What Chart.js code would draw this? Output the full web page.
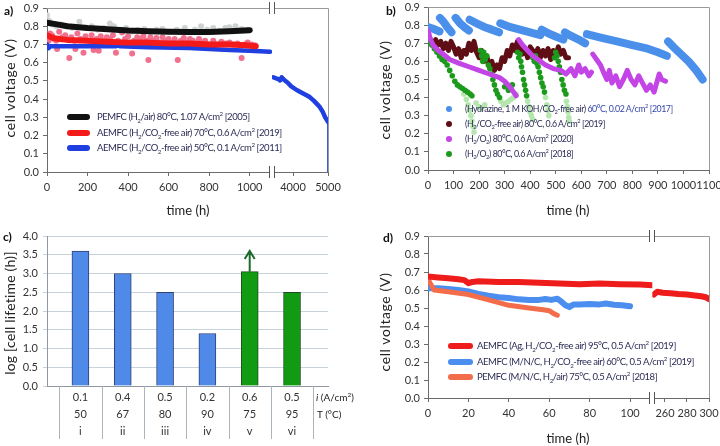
<!DOCTYPE html>
<html>
<head>
<meta charset="utf-8">
<script src="https://cdn.jsdelivr.net/npm/chart.js@4.4.1/dist/chart.umd.min.js"></script>
<style>
  body { margin: 0; background: #fff; width: 720px; height: 446px; position: relative; overflow: hidden; font-family: Lato, "Open Sans", sans-serif; }
  canvas { position: absolute; }
  .t { position: absolute; white-space: nowrap; line-height: 1; color: #222; }
  .lab { font-weight: bold; font-size: 12px; color: #111; transform: translateY(-50%); }
  .yt { font-size: 14px; letter-spacing: 0.6px; transform: translate(-50%, -50%) rotate(-90deg); }
  .xt { font-size: 13px; transform: translate(-50%, -50%); }
  .lg { font-size: 9.5px; letter-spacing: -0.45px; color: #2b2b55; transform: translateY(-50%); }
  .lgb { font-size: 8.8px; }
  .sw { position: absolute; height: 6px; border-radius: 3px; transform: translateY(-50%); }
  .dot { position: absolute; width: 6px; height: 6px; border-radius: 3px; transform: translate(-50%, -50%); }
  sub, sup { font-size: 65%; line-height: 0; }
</style>
</head>
<body>
<canvas id="ca" width="360" height="220" style="left:0;top:0"></canvas>
<canvas id="cb" width="360" height="220" style="left:360px;top:0"></canvas>
<canvas id="cc" width="360" height="226" style="left:0;top:220px"></canvas>
<canvas id="cd" width="360" height="226" style="left:360px;top:220px"></canvas>

<div class="t lab" style="left:4px;top:11px">a)</div>
<div class="t lab" style="left:386px;top:11px">b)</div>
<div class="t lab" style="left:3px;top:237px">c)</div>
<div class="t lab" style="left:383px;top:238px">d)</div>

<div class="t yt" style="left:10px;top:88px">cell voltage (V)</div>
<div class="t yt" style="left:385px;top:90px">cell voltage (V)</div>
<div class="t yt" style="left:10px;top:313px;letter-spacing:0.2px">log [cell lifetime (h)]</div>
<div class="t yt" style="left:385px;top:322px">cell voltage (V)</div>
<div class="t xt" style="left:188px;top:210px">time (h)</div>
<div class="t xt" style="left:568px;top:210px">time (h)</div>
<div class="t xt" style="left:568px;top:438px">time (h)</div>

<!-- legend a -->
<div class="sw" style="left:67px;top:117px;width:23px;background:#111"></div>
<div class="sw" style="left:67px;top:133px;width:23px;background:#f41a1a"></div>
<div class="sw" style="left:67px;top:148px;width:23px;background:#1f3fe0"></div>
<div class="t lg" style="left:97px;top:117px">PEMFC (H<sub>2</sub>/air) 80°C, 1.07 A/cm<sup>2</sup> [2005]</div>
<div class="t lg" style="left:97px;top:133px">AEMFC (H<sub>2</sub>/CO<sub>2</sub>-free air) 70°C, 0.6 A/cm<sup>2</sup> [2019]</div>
<div class="t lg" style="left:97px;top:148px">AEMFC (H<sub>2</sub>/CO<sub>2</sub>-free air) 50°C, 0.1 A/cm<sup>2</sup> [2011]</div>

<!-- legend b -->
<div class="dot" style="left:449px;top:109px;background:#4a90ea"></div>
<div class="dot" style="left:449px;top:124px;background:#5e0e14"></div>
<div class="dot" style="left:449px;top:139px;background:#c345e6"></div>
<div class="dot" style="left:449px;top:154px;background:#1c9a1c"></div>
<div class="t lg lgb" style="left:465px;top:109px">(Hydrazine, 1 M KOH/CO<sub>2</sub>-free air) <span style="color:#3546a8">60°C, 0.02 A/cm<sup>2</sup> [2017]</span></div>
<div class="t lg lgb" style="left:465px;top:124px">(H<sub>2</sub>/CO<sub>2</sub>-free air) 80°C, 0.6 A/cm<sup>2</sup> [2019]</div>
<div class="t lg lgb" style="left:465px;top:139px">(H<sub>2</sub>/O<sub>2</sub>) 80°C, 0.6 A/cm<sup>2</sup> [2020]</div>
<div class="t lg lgb" style="left:465px;top:154px">(H<sub>2</sub>/O<sub>2</sub>) 80°C, 0.6 A/cm<sup>2</sup> [2018]</div>

<!-- c row headers -->
<div class="t lg" style="left:316px;top:397px;color:#222;font-size:10px;letter-spacing:0"><i>i</i> (A/cm<sup>2</sup>)</div>
<div class="t lg" style="left:317px;top:414px;color:#222;font-size:10px;letter-spacing:0">T (°C)</div>

<!-- legend d -->
<div class="sw" style="left:448px;top:346px;width:25px;background:#ef1c1c"></div>
<div class="sw" style="left:448px;top:362px;width:25px;background:#4b8ef0"></div>
<div class="sw" style="left:448px;top:377px;width:25px;background:#f36d4a"></div>
<div class="t lg" style="left:477px;top:346px">AEMFC (Ag, H<sub>2</sub>/CO<sub>2</sub>-free air) 95°C, 0.5 A/cm<sup>2</sup> [2019]</div>
<div class="t lg" style="left:477px;top:362px">AEMFC (M/N/C, H<sub>2</sub>/CO<sub>2</sub>-free air) 60°C, 0.5 A/cm<sup>2</sup> [2019]</div>
<div class="t lg" style="left:477px;top:377px">PEMFC (M/N/C, H<sub>2</sub>/air) 75°C, 0.5 A/cm<sup>2</sup> [2018]</div>

<script>
// shared ticks
const voltTicks = [0, 0.1, 0.2, 0.3, 0.4, 0.5, 0.6, 0.7, 0.8, 0.9];

// ---- a) long-term tests
const aTimeTicks = [0, 200, 400, 600, 800, 1000];
const aTimeTicksLate = [4000, 5000];
const aPemfcLine = [[0,0.82],[50,0.81],[100,0.80],[200,0.79],[300,0.783],[400,0.776],[500,0.772],[600,0.77],[700,0.768],[800,0.768],[900,0.772],[1000,0.778]];
const aPemfcDots = [[0,0.86],[10,0.83],[25,0.81],[45,0.80],[70,0.81],[100,0.80],[125,0.79],[160,0.825],[190,0.79],[220,0.80],[250,0.78],[280,0.79],[310,0.815],[330,0.80],[360,0.78],[390,0.79],[420,0.77],[450,0.78],[480,0.785],[510,0.77],[540,0.78],[570,0.785],[600,0.77],[640,0.78],[680,0.79],[700,0.77],[730,0.78],[760,0.80],[790,0.78],[820,0.79],[850,0.775],[880,0.79],[900,0.795],[930,0.80],[960,0.785],[990,0.78]];
const aAem2019Line = [[0,0.75],[10,0.745],[30,0.735],[60,0.73],[100,0.725],[200,0.72],[300,0.715],[400,0.71],[500,0.71],[600,0.705],[700,0.705],[800,0.70],[900,0.70],[980,0.695],[1030,0.69]];
const aAem2019Dots = [[0,0.74],[8,0.72],[15,0.76],[25,0.75],[35,0.73],[45,0.72],[50,0.675],[60,0.77],[75,0.74],[90,0.75],[100,0.73],[110,0.625],[120,0.74],[135,0.72],[140,0.675],[150,0.76],[165,0.73],[180,0.655],[190,0.745],[205,0.72],[220,0.75],[230,0.67],[245,0.73],[255,0.665],[265,0.745],[280,0.72],[295,0.74],[310,0.73],[325,0.75],[340,0.655],[350,0.72],[370,0.765],[385,0.73],[400,0.745],[420,0.65],[430,0.72],[445,0.74],[460,0.73],[475,0.745],[490,0.72],[500,0.615],[510,0.74],[525,0.72],[540,0.735],[555,0.71],[570,0.74],[585,0.72],[600,0.73],[615,0.71],[630,0.73],[645,0.615],[660,0.72],[675,0.735],[690,0.71],[705,0.73],[720,0.72],[735,0.705],[750,0.73],[765,0.71],[780,0.72],[800,0.70],[820,0.72],[840,0.70],[860,0.715],[880,0.705],[900,0.71],[920,0.70],[940,0.705],[960,0.625],[975,0.70],[990,0.71],[1010,0.70],[1025,0.695]];
const aAem2011Early = [[0,0.70],[8,0.68],[15,0.69],[50,0.69],[200,0.69],[340,0.69],[350,0.695],[360,0.69],[500,0.685],[700,0.68],[900,0.67],[1000,0.665],[1100,0.66]];
const aAem2011Late = [[3437,0.52],[3500,0.515],[3580,0.51],[3629,0.503],[3677,0.52],[3750,0.505],[3850,0.49],[3950,0.47],[4105,0.45],[4250,0.435],[4400,0.42],[4486,0.41],[4600,0.39],[4700,0.37],[4771,0.355],[4850,0.33],[4920,0.30],[5000,0.275]];
const aAem2011End = [[5000,0.275],[5000,0]];

// ---- b) recent AEMFC tests
const bTimeTicks = [0, 100, 200, 300, 400, 500, 600, 700, 800, 900, 1000, 1100];
const bHydrazine = [
  [[0,0.79],[20,0.78],[45,0.765]],
  [[47,0.84],[60,0.82],[75,0.79],[92,0.76]],
  [[108,0.84],[125,0.81],[145,0.785],[160,0.77]],
  [[163,0.83],[190,0.81],[220,0.79],[250,0.775],[278,0.76]],
  [[283,0.81],[320,0.79],[360,0.775],[400,0.76],[440,0.745]],
  [[445,0.775],[470,0.755],[495,0.74],[530,0.72]],
  [[536,0.76],[560,0.74],[590,0.72],[615,0.70]],
  [[622,0.75],[680,0.73],[740,0.71],[800,0.69],[860,0.67],[900,0.65],[935,0.63]],
  [[940,0.71],[960,0.68],[990,0.64],[1020,0.60],[1050,0.55],[1075,0.50]]
];
const bAir2019 = [[0,0.73],[10,0.72],[20,0.70],[30,0.72],[40,0.69],[50,0.71],[60,0.67],[70,0.70],[80,0.66],[90,0.71],[100,0.68],[110,0.64],[120,0.67],[130,0.62],[140,0.66],[150,0.64],[160,0.70],[170,0.66],[180,0.71],[190,0.65],[200,0.62],[210,0.66],[220,0.60],[230,0.63],[240,0.57],[250,0.60],[260,0.55],[270,0.58],[280,0.56],[290,0.62],[300,0.60],[310,0.66],[320,0.63],[330,0.69],[340,0.66],[350,0.71],[360,0.67],[370,0.64],[380,0.67],[390,0.62],[400,0.68],[410,0.66],[420,0.63],[430,0.67],[440,0.62],[450,0.66],[460,0.63],[470,0.67],[480,0.61],[490,0.66],[500,0.63],[510,0.68],[520,0.64],[530,0.66],[540,0.62],[550,0.62]];
const bO2_2020 = [
  [[0,0.77],[10,0.72],[20,0.69],[40,0.66],[60,0.64],[85,0.61],[120,0.59],[160,0.57],[200,0.55],[240,0.53],[280,0.51],[300,0.49],[320,0.46],[335,0.43],[345,0.41]],
  [[355,0.72],[370,0.69],[390,0.66],[410,0.63],[430,0.61],[460,0.58],[490,0.56],[520,0.55],[540,0.53],[560,0.56],[575,0.52],[590,0.58],[600,0.54],[615,0.56],[630,0.52],[640,0.54]],
  [[645,0.64],[660,0.61],[675,0.58],[690,0.53],[700,0.50],[710,0.55],[720,0.48],[735,0.52],[750,0.46],[765,0.50],[780,0.55],[795,0.50],[810,0.47],[825,0.52],[840,0.48],[855,0.44],[870,0.47],[885,0.43],[895,0.48],[905,0.53],[915,0.50],[930,0.49]]
];
const bO2_2018 = [[0,0.75],[3,0.72],[8,0.70],[15,0.69],[25,0.67],[35,0.65],[45,0.63],[55,0.61],[65,0.60],[75,0.58],[85,0.55],[95,0.52],[105,0.49],[115,0.47],[125,0.46],[135,0.45],[145,0.44],[155,0.43],[165,0.42],[172,0.41],
  [205,0.66],[210,0.63],[214,0.60],[218,0.65],[224,0.61],[230,0.63],[236,0.58],[242,0.56],[248,0.53],[254,0.50],[260,0.47],[266,0.44],[272,0.42],[280,0.40],[300,0.46],[315,0.44],[330,0.47],
  [350,0.65],[355,0.62],[360,0.64],[363,0.60],[366,0.57],[370,0.54],[374,0.50],[378,0.47],[382,0.44],[386,0.41],
  [410,0.62],[416,0.60],[421,0.63],[426,0.59],[431,0.57],[436,0.54],[441,0.51],[446,0.48],[451,0.46],[456,0.43],
  [495,0.62],[500,0.65],[505,0.63],[510,0.60],[514,0.57],[519,0.54],[524,0.50],[529,0.47],[534,0.44],[540,0.42]];
const bO2_2018Faded = [[140,0.42],[150,0.39],[157,0.36],[163,0.33],[168,0.30],[172,0.27],[176,0.24],[180,0.21],[188,0.37],[198,0.35],[210,0.34],[222,0.36],
  [285,0.38],[295,0.36],[305,0.37],[315,0.38],[325,0.39],[335,0.40],[345,0.42],
  [390,0.38],[395,0.35],[400,0.32],[405,0.30],[410,0.28],
  [460,0.40],[465,0.36],[469,0.33],[473,0.30],
  [542,0.38],[545,0.35],[548,0.32],[551,0.29],[553,0.27]];

// ---- c) lifetime bars
const cRoman = ['i', 'ii', 'iii', 'iv', 'v', 'vi'];
const cCurrent = ['0.1', '0.4', '0.5', '0.2', '0.6', '0.5'];
const cTemp = ['50', '67', '80', '90', '75', '95'];
const cLifeLog = [3.6, 3.0, 2.5, 1.4, 3.05, 2.5];
const cArrowTop = 3.6;
const cLogTicks = [0, 0.5, 1, 1.5, 2, 2.5, 3, 3.5, 4];

// ---- d) PGM-free tests
const dTimeTicks = [0, 20, 40, 60, 80, 100];
const dTimeTicksLate = [260, 280, 300];
const dAgEarly = [[0,0.675],[5,0.67],[10,0.665],[15,0.66],[18,0.655],[20,0.638],[22,0.645],[25,0.648],[35,0.645],[45,0.644],[55,0.64],[65,0.636],[75,0.632],[85,0.636],[95,0.632],[105,0.63],[111,0.626]];
const dAgLate = [[250,0.575],[253,0.59],[258,0.585],[265,0.582],[272,0.578],[280,0.575],[287,0.57],[293,0.565],[297,0.56],[300,0.55]];
const dMNC_AEM = [[0,0.61],[5,0.61],[10,0.605],[15,0.60],[20,0.592],[25,0.578],[30,0.568],[35,0.56],[40,0.555],[45,0.548],[50,0.545],[55,0.545],[58,0.55],[61,0.545],[64,0.552],[66,0.535],[68,0.515],[70,0.505],[72,0.52],[75,0.52],[80,0.522],[85,0.52],[88,0.525],[92,0.518],[96,0.515],[100,0.51]];
const dMNC_PEM = [[0,0.66],[1.5,0.63],[3,0.60],[10,0.59],[20,0.575],[30,0.545],[40,0.515],[50,0.50],[57,0.49],[60,0.485],[62,0.47],[64,0.46]];

const axisGray = '#6b6b6b';

Chart.defaults.font.family = 'Lato, sans-serif';
Chart.defaults.font.size = 11;
Chart.defaults.color = '#333';
Chart.defaults.animation = false;
Chart.defaults.responsive = false;
Chart.defaults.plugins.legend.display = false;
Chart.defaults.plugins.tooltip.enabled = false;

const pts = arr => arr.map(p => ({x: p[0], y: p[1]}));
function noPad(s) { s.paddingLeft = 0; s.paddingRight = 0; s.paddingTop = 0; s.paddingBottom = 0; }
function fixWidth(w) { return s => { s.width = w; noPad(s); }; }
function fixHeight(h) { return s => { s.height = h; noPad(s); }; }
function useTicks(vals) { return s => { s.ticks = vals.map(v => ({value: v})); }; }

function voltAxis(w) {
  return {
    type: 'linear', min: 0, max: 0.9,
    afterBuildTicks: useTicks(voltTicks), afterFit: fixWidth(w),
    grid: {drawOnChartArea: false, tickLength: 4, color: axisGray},
    border: {color: axisGray},
    ticks: {padding: 4, callback: v => v.toFixed(1)}
  };
}
function timeAxis(min, max, ticks, h, weight) {
  return {
    type: 'linear', position: 'bottom', stack: 'time', stackWeight: weight || 1, min: min, max: max,
    afterBuildTicks: useTicks(ticks), afterFit: fixHeight(h),
    grid: {drawOnChartArea: false, tickLength: 4, color: axisGray},
    border: {color: axisGray},
    ticks: {padding: 5, autoSkip: false, maxRotation: 0, callback: v => String(v)}
  };
}
function lineSet(data, color, width, axis) {
  return {data: pts(data), showLine: true, borderColor: color, borderWidth: width, pointRadius: 0,
    borderCapStyle: 'round', borderJoinStyle: 'round', tension: 0, xAxisID: axis || 'x'};
}
function dotSet(data, color, r, axis) {
  return {data: pts(data), showLine: false, pointRadius: r, backgroundColor: color, pointBackgroundColor: color,
    borderWidth: 0, pointBorderWidth: 0, xAxisID: axis || 'x'};
}

// top/right frame plus the "||" axis break
const framePlugin = {
  id: 'frame',
  afterDraw(chart, args, o) {
    if (!o.color) return;
    const ctx = chart.ctx, a = chart.chartArea;
    const top = Math.round(a.top) + 0.5, right = Math.round(a.right) + 0.5;
    ctx.save();
    ctx.strokeStyle = o.color;
    ctx.lineWidth = 1;
    ctx.beginPath();
    ctx.moveTo(a.left, top);
    ctx.lineTo(right, top);
    ctx.lineTo(right, a.bottom);
    ctx.stroke();
    if (o.breakAfter) {
      const bx = Math.round(chart.scales[o.breakAfter].right);
      [a.top, a.bottom].forEach(y => {
        ctx.fillStyle = '#fff';
        ctx.fillRect(bx - 2, y - 2, 4, 4);
        ctx.strokeStyle = '#555';
        ctx.beginPath();
        ctx.moveTo(bx - 2.5, y - 6); ctx.lineTo(bx - 2.5, y + 6);
        ctx.moveTo(bx + 2.5, y - 6); ctx.lineTo(bx + 2.5, y + 6);
        ctx.stroke();
      });
    }
    ctx.restore();
  }
};

// table cell lines below the bars and the "still running" arrow
const tablePlugin = {
  id: 'table',
  afterDraw(chart, args, o) {
    if (!o.cuts) return;
    const ctx = chart.ctx, a = chart.chartArea, x = chart.scales.x, y = chart.scales.y;
    ctx.save();
    ctx.strokeStyle = o.color;
    ctx.lineWidth = 1;
    ctx.beginPath();
    o.cuts.forEach(v => {
      const px = Math.round(x.getPixelForValue(v)) + 0.5;
      ctx.moveTo(px, a.bottom);
      ctx.lineTo(px, a.bottom + o.depth);
    });
    ctx.stroke();
    const ax = x.getPixelForValue(o.arrowAt);
    const y0 = y.getPixelForValue(o.arrowFrom), y1 = y.getPixelForValue(o.arrowTo);
    ctx.strokeStyle = o.arrowColor;
    ctx.lineWidth = 2;
    ctx.beginPath();
    ctx.moveTo(ax, y0); ctx.lineTo(ax, y1);
    ctx.moveTo(ax - 5, y1 + 8); ctx.lineTo(ax, y1); ctx.lineTo(ax + 5, y1 + 8);
    ctx.stroke();
    ctx.restore();
  }
};
Chart.register(framePlugin, tablePlugin);

// a)
new Chart(document.getElementById('ca'), {
  type: 'scatter',
  data: {
    datasets: [
      lineSet(aPemfcLine, '#111', 6),
      lineSet(aAem2019Line, '#f41a1a', 6),
      lineSet(aAem2011Early, '#1f3fe0', 4.5),
      lineSet(aAem2011Late, '#1f3fe0', 4.5, 'x2'),
      lineSet(aAem2011End, '#1f3fe0', 1, 'x2'),
      dotSet(aAem2019Dots, '#f0708e', 3),
      dotSet(aPemfcDots, '#cdd2d2', 3)
    ]
  },
  options: {
    devicePixelRatio: 1,
    layout: {padding: {top: 8, right: 32, left: 0, bottom: 0}},
    scales: {
      x: timeAxis(0, 1110, aTimeTicks, 48, 225),
      x2: timeAxis(3400, 5000, aTimeTicksLate, 48, 56),
      y: voltAxis(47)
    },
    plugins: {frame: {color: '#9a9a9a', breakAfter: 'x'}}
  }
});

// b)
const bSets = [];
bO2_2020.forEach(seg => bSets.push(lineSet(seg, '#c345e6', 5)));
bSets.push(dotSet(bO2_2018, '#1c9a1c', 2.8));
bSets.push(dotSet(bO2_2018Faded, '#b5e6ad', 2.8));
bSets.push(lineSet(bAir2019, '#5e0e14', 5));
bHydrazine.forEach(seg => bSets.push(lineSet(seg, '#4a90ea', 8)));
new Chart(document.getElementById('cb'), {
  type: 'scatter',
  data: {datasets: bSets},
  options: {
    devicePixelRatio: 1,
    layout: {padding: {top: 7, right: 11, left: 0, bottom: 0}},
    scales: {
      x: timeAxis(0, 1100, bTimeTicks, 50),
      y: voltAxis(68)
    },
    plugins: {frame: {color: '#9a9a9a'}}
  }
});

// c)
const cBlue = '#4f8ae8', cGreen = '#129a12';
new Chart(document.getElementById('cc'), {
  type: 'bar',
  data: {
    datasets: [{
      data: cLifeLog.map((v, i) => ({x: i, y: v})),
      backgroundColor: cLifeLog.map((v, i) => i < 4 ? cBlue : cGreen),
      borderColor: cLifeLog.map((v, i) => i < 4 ? '#2f3f78' : '#1d4d1d'),
      borderWidth: 1,
      barThickness: 17
    }]
  },
  options: {
    devicePixelRatio: 1,
    layout: {padding: {top: 16, right: 32, left: 0, bottom: 0}},
    scales: {
      x: {
        type: 'linear', min: -0.79, max: 5.85, offset: false,
        afterBuildTicks: useTicks(cRoman.map((r, i) => i)), afterFit: fixHeight(60),
        grid: {drawOnChartArea: false, drawTicks: false, offset: false},
        border: {color: '#8d98a2'},
        ticks: {padding: 3, autoSkip: false, maxRotation: 0, font: {size: 11, lineHeight: 1.55},
          callback: v => [cCurrent[v], cTemp[v], cRoman[v]]}
      },
      y: {
        min: 0, max: 4,
        afterBuildTicks: useTicks(cLogTicks), afterFit: fixWidth(47),
        grid: {color: '#c6d3dc', tickLength: 4},
        border: {color: '#8d98a2'},
        ticks: {padding: 5, callback: v => v.toFixed(1)}
      }
    },
    plugins: {
      table: {
        cuts: cRoman.map((r, i) => i - 0.5).concat(cRoman.length - 0.5),
        depth: 53, color: '#a9b4bc',
        arrowAt: 4, arrowFrom: cLifeLog[4], arrowTo: cArrowTop, arrowColor: '#1d6a2a'
      }
    }
  }
});

// d)
new Chart(document.getElementById('cd'), {
  type: 'scatter',
  data: {
    datasets: [
      lineSet(dAgEarly, '#ef1c1c', 6),
      lineSet(dAgLate, '#ef1c1c', 6, 'x2'),
      lineSet(dMNC_PEM, '#f36d4a', 5),
      lineSet(dMNC_AEM, '#4b8ef0', 6)
    ]
  },
  options: {
    devicePixelRatio: 1,
    layout: {padding: {top: 16, right: 11, left: 0, bottom: 0}},
    scales: {
      x: timeAxis(0, 111, dTimeTicks, 48, 224.3),
      x2: timeAxis(248.5, 300, dTimeTicksLate, 48, 56.7),
      y: voltAxis(68)
    },
    plugins: {frame: {color: '#9a9a9a', breakAfter: 'x'}}
  }
});
</script>
</body>
</html>
